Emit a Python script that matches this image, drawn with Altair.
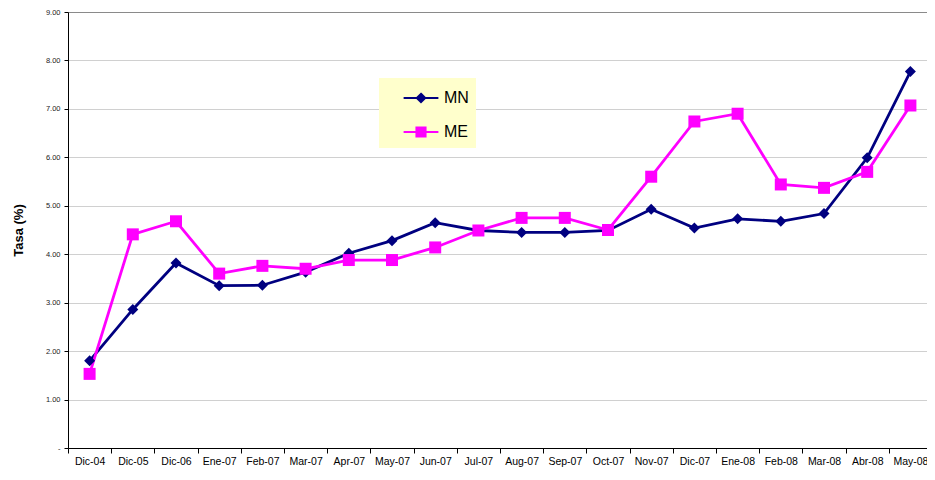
import altair as alt
import pandas as pd

categories = ["Dic-04", "Dic-05", "Dic-06", "Ene-07", "Feb-07", "Mar-07", "Apr-07",
              "May-07", "Jun-07", "Jul-07", "Aug-07", "Sep-07", "Oct-07", "Nov-07",
              "Dic-07", "Ene-08", "Feb-08", "Mar-08", "Abr-08", "May-08"]
mn = [1.80, 2.86, 3.82, 3.35, 3.36, 3.63, 4.02, 4.28, 4.65, 4.49, 4.45, 4.45,
      4.49, 4.93, 4.54, 4.73, 4.68, 4.84, 5.99, 7.77]
me = [1.53, 4.41, 4.68, 3.60, 3.76, 3.70, 3.88, 3.88, 4.14, 4.49, 4.75, 4.75,
      4.50, 5.60, 6.74, 6.90, 5.44, 5.37, 5.70, 7.07]
series_names = ["MN", "ME"]
series_colors = ["#000080", "#FF00FF"]
y_ticks = [0, 1, 2, 3, 4, 5, 6, 7, 8, 9]

rows = []
for s, col, vals in zip(series_names, series_colors, [mn, me]):
    for c, v in zip(categories, vals):
        rows.append({"periodo": c, "serie": s, "color": col, "tasa": v})
df = pd.DataFrame(rows)

FONT = "Liberation Sans"

x_enc = alt.X(
    "periodo:N", sort=categories,
    scale=alt.Scale(type="band", paddingInner=0, paddingOuter=0),
    axis=alt.Axis(title=None, labelAngle=0, tickBand="extent", ticks=True,
                  tickSize=5, tickColor="#000000", domainColor="#000000",
                  labelFont=FONT, labelFontSize=10.5, labelColor="#000000",
                  labelPadding=3, grid=False),
)
y_enc = alt.Y(
    "tasa:Q",
    scale=alt.Scale(domain=[0, 9], nice=False, zero=True),
    axis=alt.Axis(
        title="Tasa (%)", values=y_ticks,
        labelExpr="datum.value == 0 ? '-' : format(datum.value, '.2f')",
        labelFont=FONT, labelFontSize=7.5, labelColor="#222222", labelPadding=4,
        tickSize=4, tickColor="#000000", domainColor="#000000",
        titleFont=FONT, titleFontSize=13, titleFontWeight="bold",
        titleColor="#000000", titlePadding=20,
        grid=True,
        gridColor={"condition": {"test": "datum.value == 9", "value": "#8a8a8a"},
                   "value": "#d0d0d0"},
        gridWidth=1,
    ),
)

direct_color = alt.Color("color:N", scale=None)

base = alt.Chart(df)

lines = base.mark_line(strokeWidth=2.8).encode(
    x=x_enc, y=y_enc, color=direct_color, detail="serie:N",
)

pts_mn = base.transform_filter("datum.serie == 'MN'").mark_point(
    shape="diamond", filled=True, size=121, opacity=1
).encode(x=x_enc, y=y_enc, color=direct_color)

pts_me = base.transform_filter("datum.serie == 'ME'").mark_point(
    shape="square", filled=True, size=144, opacity=1
).encode(x=x_enc, y=y_enc, color=direct_color)

path_mn = "M-1.45,0L1.45,0M0,-0.35L0.35,0L0,0.35L-0.35,0Z"
path_me = "M-1.45,0L1.45,0M-0.38,-0.38L0.38,-0.38L0.38,0.38L-0.38,0.38Z"

leg = alt.Legend(
    title=None, orient="none", legendX=311, legendY=66,
    fillColor="#FFFFCC", padding=7, symbolSize=576, symbolStrokeWidth=2,
    symbolOffset=22, labelOffset=10, labelFont=FONT, labelFontSize=16,
    labelColor="#000000", rowPadding=12, symbolOpacity=1,
    labelExpr="datum.label + '\u00a0\u00a0\u00a0\u00a0'",
)
legend_scale = alt.Scale(domain=series_names, range=series_colors)

legend_layer = base.mark_point(filled=True, opacity=0).encode(
    x=x_enc, y=y_enc,
    fill=alt.Fill("serie:N", scale=legend_scale, legend=leg),
    stroke=alt.Stroke("serie:N", scale=legend_scale, legend=leg),
    shape=alt.Shape("serie:N", scale=alt.Scale(domain=series_names, range=[path_mn, path_me]), legend=leg),
)

chart = alt.layer(lines, pts_mn, pts_me, legend_layer).properties(
    width=864, height=436,
    autosize=alt.AutoSizeParams(type="none"),
    padding={"left": 60, "top": 4, "right": -5, "bottom": 20},
    background="#ffffff",
).configure_view(stroke=None)

chart.save("out.html", embed_options={"renderer": "svg", "actions": False})
